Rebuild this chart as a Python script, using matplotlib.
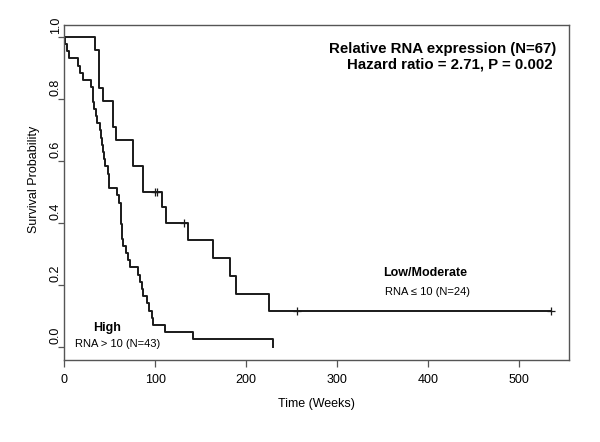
import numpy as np
import matplotlib
matplotlib.use("Agg")
import matplotlib.pyplot as plt
import matplotlib.transforms as mtransforms

plt.rcParams['font.family'] = ['Liberation Sans', 'DejaVu Sans']

# ---- data ----
# Low/Moderate expression group (N=24): times in weeks, 1 = death, 0 = censored
low_times = [34, 38, 38, 38, 43, 54, 54, 56.5, 76, 76, 87, 87,
             100, 102, 107, 111.4, 131.9, 135.6, 163.7, 182.1, 188.4, 225.3,
             256, 534.5]
low_events = [1, 1, 1, 1, 1, 1, 1, 1, 1, 1, 1, 1,
              0, 0, 1, 1, 0, 1, 1, 1, 1, 1,
              0, 0]

# High expression group (N=43): all deaths
high_times = [1, 3, 5, 15, 17, 21, 29, 31, 32, 32.5, 35, 36.3, 39, 40,
              41.4, 42.5, 43.5, 44.5, 48.5, 49, 49.5, 57.6, 60,
              62, 62, 62.5, 63, 63, 65, 67.8, 70, 72,
              81.3, 83.3, 85, 87, 90.5, 93.4, 96, 97.8, 111, 141, 229]
high_events = [1] * len(high_times)

x_ticks = [0, 100, 200, 300, 400, 500]
y_ticks = [0.0, 0.2, 0.4, 0.6, 0.8, 1.0]
y_ticklabels = ["0.0", "0.2", "0.4", "0.6", "0.8", "1.0"]

title_lines = ["Relative RNA expression (N=67)", "Hazard ratio = 2.71, P = 0.002"]


def kaplan_meier(times, events):
    t = np.asarray(times, float)
    e = np.asarray(events, int)
    order = np.argsort(t, kind="stable")
    t, e = t[order], e[order]
    xs, ys = [0.0], [1.0]
    cens_x, cens_y = [], []
    s = 1.0
    n = len(t)
    for ut in np.unique(t):
        mask = t == ut
        d = e[mask].sum()
        c = mask.sum() - d
        if d > 0:
            s = s * (1 - d / n)
            xs.append(ut)
            ys.append(s)
        if c > 0:
            cens_x.append(ut)
            cens_y.append(s)
        n -= mask.sum()
    last = t.max()
    if xs[-1] != last:
        xs.append(last)
        ys.append(s)
    return np.array(xs), np.array(ys), cens_x, cens_y


fig = plt.figure(figsize=(6.0, 4.42), dpi=100)
ax = fig.add_axes([0.1072, 0.1855, 0.8408, 0.758])

line_col = "#1a1a1a"
for times, events in [(low_times, low_events), (high_times, high_events)]:
    xs, ys, cx, cy = kaplan_meier(times, events)
    ax.step(xs, ys, where="post", color=line_col, lw=1.4)
    if cx:
        ax.plot(cx, cy, linestyle="none", marker="+", color=line_col,
                markersize=6, mew=0.9)

ax.set_xlim(0, 554.6)
ax.set_ylim(-0.043, 1.038)

for sp in ax.spines.values():
    sp.set_color("#555555")
    sp.set_linewidth(1.0)

ax.set_xticks(x_ticks)
ax.set_xticklabels([str(v) for v in x_ticks], fontsize=9)
ax.set_yticks(y_ticks)
ax.set_yticklabels(y_ticklabels, fontsize=9, rotation=90, va="center")
ax.tick_params(axis="x", direction="out", length=4.8, width=0.9,
               color="#555555", pad=5)
ax.tick_params(axis="y", direction="out", length=4.3, width=0.9,
               color="#555555", pad=-2.6)

# y tick labels sit slightly above their ticks in the reference
offset = mtransforms.ScaledTranslation(0, 11 / 100, fig.dpi_scale_trans)
for lab in ax.get_yticklabels():
    lab.set_transform(lab.get_transform() + offset)

ax.set_xlabel("Time (Weeks)", fontsize=9)
ax.xaxis.set_label_coords(0.5, -0.113)
ax.set_ylabel("Survival Probability", fontsize=9)
ax.yaxis.set_label_coords(-0.048, 0.54)

ax.text(540.3, 0.96, title_lines[0], ha="right", va="center",
        fontsize=10.8, fontweight="bold")
ax.text(536.7, 0.909, title_lines[1], ha="right", va="center",
        fontsize=10.8, fontweight="bold")

ax.text(397, 0.237, "Low/Moderate", ha="center", va="center",
        fontsize=9, fontweight="bold")
ax.text(399, 0.175, "RNA \u2264 10 (N=24)", ha="center", va="center",
        fontsize=8)
ax.text(46.6, 0.059, "High", ha="center", va="center",
        fontsize=9, fontweight="bold")
ax.text(59, 0.008, "RNA > 10 (N=43)", ha="center", va="center",
        fontsize=8)

fig.savefig("out.png", dpi=100)
